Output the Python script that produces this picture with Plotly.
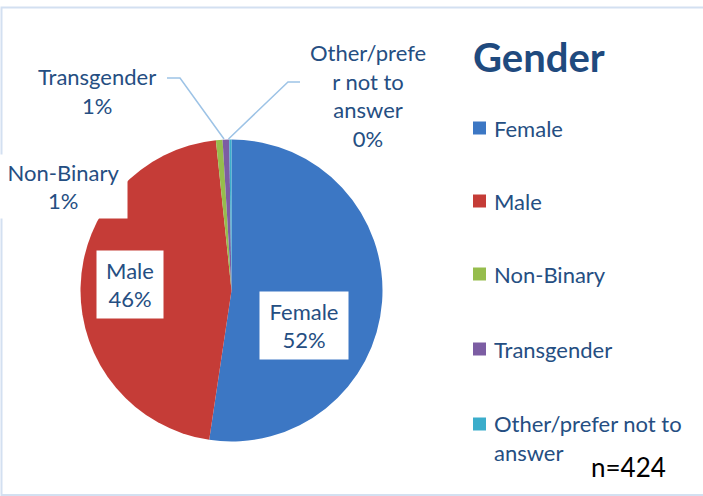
import plotly.graph_objects as go

# ---- data ----
categories = ["Female", "Male", "Non-Binary", "Transgender", "Other/prefer not to answer"]
values = [222, 195, 3, 3, 1]
slice_labels = ["Female", "Male", "Non-Binary", "Transgender", "Other/prefe<br>r not to<br>answer"]
legend_labels = ["Female", "Male", "Non-Binary", "Transgender", "Other/prefer not to<br>answer"]
colors = ["#3C77C4", "#C53C37", "#96BD4D", "#7C5DA3", "#3BADCB"]
title_text = "Gender"
n_text = "n=424"

W, H = 703, 496
TXT = "#254E82"
FONT = "Lato"
FS = 22

total = sum(values)
pcts = [round(v / total * 100) for v in values]


def px(x):
    return x / W


def py(y):
    return 1 - y / H


fig = go.Figure()
cx, cy, r = 231.5, 290.5, 151
fig.add_trace(go.Pie(
    labels=categories, values=values, sort=False, direction="clockwise",
    rotation=0, textinfo="none", showlegend=False,
    marker=dict(colors=colors, line=dict(width=0)),
    domain=dict(x=[px(cx - r), px(cx + r)], y=[py(cy + r), py(cy - r)]),
))

annotations = []
shapes = []

# slice labels
label_pos = [
    dict(x=304, y=325.5, box=(88, 67)),
    dict(x=130, y=284, box=(66, 67)),
    dict(x=63, y=187, box=(127, 63)),
    dict(x=97, y=91, box=None),
    dict(x=368, y=95, box=None),
]
for lab, p, pos in zip(slice_labels, pcts, label_pos):
    a = dict(text=f"{lab}<br>{p}%", x=px(pos["x"]), y=py(pos["y"]),
             xref="paper", yref="paper", showarrow=False,
             xanchor="center", yanchor="middle", align="center",
             font=dict(family=FONT, size=FS, color=TXT))
    if pos["box"]:
        a.update(bgcolor="white", width=pos["box"][0], height=pos["box"][1],
                 borderpad=0, valign="middle")
    annotations.append(a)

# leader lines
lead = "#9DC3E6"
for pts in ([(167, 78), (180, 78), (224, 139)], [(300, 82), (288, 82), (228.5, 139)]):
    path = "M " + " L ".join(f"{px(x)},{py(y)}" for x, y in pts)
    shapes.append(dict(type="path", path=path, xref="paper", yref="paper",
                       line=dict(color=lead, width=1.5)))

# title
annotations.append(dict(text=f"<b>{title_text}</b>", x=px(471), y=py(57), xref="paper", yref="paper",
                        showarrow=False, xanchor="left", yanchor="middle",
                        font=dict(family=FONT, size=40, color="#1F4A7E")))

# manual legend
legend_y = [128, 201, 274, 349, 424]
for lab, col, ly in zip(legend_labels, colors, legend_y):
    shapes.append(dict(type="rect", xref="paper", yref="paper",
                       x0=px(473), x1=px(486), y0=py(ly + 6.5), y1=py(ly - 6.5),
                       fillcolor=col, line=dict(width=0)))
    nlines = lab.count("<br>") + 1
    annotations.append(dict(text=lab, x=px(492), y=py(ly + (nlines - 1) * 14), xref="paper", yref="paper",
                            showarrow=False, xanchor="left", yanchor="middle", align="left",
                            font=dict(family=FONT, size=FS, color=TXT)))

annotations.append(dict(text=n_text, x=px(628), y=py(467), xref="paper", yref="paper",
                        showarrow=False, xanchor="center", yanchor="middle",
                        font=dict(family=FONT, size=26, color="black")))

# chart border
shapes.append(dict(type="rect", xref="paper", yref="paper",
                   x0=px(1.5), x1=px(706), y0=py(495), y1=py(7.5),
                   line=dict(color="#D3E0F1", width=2), fillcolor="rgba(0,0,0,0)"))

fig.update_layout(width=W, height=H, margin=dict(l=0, r=0, t=0, b=0),
                  paper_bgcolor="white", plot_bgcolor="white",
                  annotations=annotations, shapes=shapes)
fig.write_html("out.html", config={"displayModeBar": False},
               post_script="document.body.style.margin='0';")
